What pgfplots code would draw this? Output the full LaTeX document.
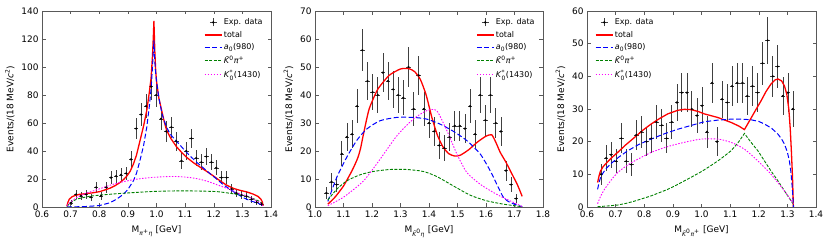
\documentclass[border=0pt]{standalone}
\usepackage{fontspec}
\setmainfont{DejaVu Sans}
\usepackage{pgfplots}
\usepackage{pgfplotstable}
\pgfplotsset{compat=1.18}

\definecolor{dgreen}{rgb}{0,0.5,0}
\definecolor{axgray}{rgb}{0.35,0.35,0.35}
\definecolor{cred}{rgb}{1,0,0}
\definecolor{cblue}{rgb}{0,0,1}
\definecolor{cmag}{rgb}{1,0,1}

\newcommand\tsub[1]{\ensuremath{_{\mbox{\fontsize{6}{6}\selectfont #1}}}}
\newcommand\tsup[1]{\ensuremath{^{\mbox{\fontsize{6}{6}\selectfont #1}}}}
\newcommand\tsupsub[2]{\ensuremath{^{\mbox{\fontsize{6}{6}\selectfont #1}}_{\mbox{\fontsize{6}{6}\selectfont #2}}}}
\newcommand\Kb{\textit{\={K}}}

\pgfplotstableread{
x y ey
0.701 3 1.7
0.719 9 3
0.736 8 2.8
0.754 9 3
0.771 7 2.6
0.789 14 3.7
0.806 8 2.8
0.824 14 3.7
0.841 21 4.6
0.859 22 4.7
0.876 23 4.8
0.894 24 4.9
0.911 34 5.8
0.929 56 7.5
0.946 66 8.1
0.964 72 8.5
0.981 86 9.3
0.999 80 8.9
1.016 63 7.9
1.034 54 7.3
1.052 57 7.5
1.069 47 6.9
1.087 33 5.7
1.104 40 6.3
1.122 49 7
1.139 35 5.9
1.157 32 5.7
1.174 36 6
1.192 32 5.7
1.209 28 5.3
1.227 21 4.6
1.245 21 4.6
1.262 13 3.6
1.279 10 3.2
1.297 8.6 2.9
1.315 7.6 2.8
1.332 5.5 2.3
1.350 3.3 1.8
1.367 2 1.4
}\dataA

\pgfplotstableread{
x y ey
1.040 5 2.2
1.058 9 3
1.076 8 2.8
1.094 19 4.4
1.112 25 5
1.130 26 5.1
1.148 36 6
1.166 56 7.5
1.184 45 6.7
1.202 41 6.4
1.220 40 6.3
1.238 48 6.9
1.256 45 6.7
1.274 42 6.5
1.292 40 6.3
1.310 39 6.2
1.328 50 7.1
1.346 35 5.9
1.364 47 6.9
1.382 35 5.9
1.400 30 5.5
1.418 27 5.2
1.436 22 4.7
1.454 21 4.6
1.472 25 5
1.490 29 5.4
1.508 29 5.4
1.526 28 5.3
1.544 36 6
1.562 26 5.1
1.580 40 6.3
1.598 31 5.6
1.616 40 6.3
1.634 30 5.5
1.652 27 5.2
1.670 13 3.6
1.688 8 2.8
1.706 3 1.7
}\dataB

\pgfplotstableread{
x y ey
0.649 10 3.2
0.667 15 3.9
0.684 16 4
0.702 14 3.7
0.720 21 4.6
0.737 14 3.7
0.755 13 3.6
0.772 22 4.7
0.790 23 4.8
0.808 20 4.5
0.825 21 4.6
0.843 26 5.1
0.861 25 5
0.878 21 4.6
0.896 26 5.1
0.914 32 5.7
0.931 35 5.9
0.949 35 5.9
0.966 30 5.5
0.984 28 5.3
1.002 31 5.6
1.019 23 4.8
1.037 38 6.2
1.054 20 4.5
1.072 33 5.7
1.090 32 5.7
1.107 37 6.1
1.125 38 6.2
1.143 38 6.2
1.160 34 5.8
1.178 37 6.1
1.196 35 5.9
1.213 44 6.6
1.231 51 7.1
1.249 40 6.3
1.266 43 6.6
1.284 34 5.8
1.302 35 5.9
1.319 30 5.5
}\dataC

\pgfplotsset{
  panel/.style={
    scale only axis, width=229bp, height=196bp,
    axis line style={axgray, line width=0.6pt},
    tick style={axgray, line width=0.5pt},
    tick align=inside,
    major tick length=3.5bp,
    tick label style={font=\fontsize{9}{10}\selectfont},
    label style={font=\fontsize{9}{10}\selectfont},
    xlabel style={yshift=-1.5bp},
    /pgf/number format/assume math mode=true,
    xticklabel style={/pgf/number format/.cd, fixed, fixed zerofill, precision=1},
    yticklabel style={/pgf/number format/.cd, fixed, precision=0},
    ylabel={Events/(18 MeV/\textit{c}\tsup{2})},
    ymin=0,
    legend cell align=left,
    legend style={draw=none, fill=none, font=\fontsize{8}{10}\selectfont,
      row sep=2bp, inner sep=1bp, nodes={inner sep=1.5bp}},
  },
  datast/.style={black, only marks, mark=*, mark size=0.9pt, forget plot,
    error bars/.cd, y dir=both, y explicit, x dir=both, x fixed=0.008,
    error bar style={black!75, line width=0.6pt}, error mark=none},
  totst/.style={cred, line width=1.3pt},
  a0st/.style={cblue, line width=1pt, dash pattern=on 5bp off 2.5bp},
  kpist/.style={dgreen, line width=0.9pt, dash pattern=on 3bp off 1.5bp},
  kstst/.style={cmag, line width=0.9pt, dash pattern=on 1.5bp off 1.5bp},
}

\newcommand\legendimages{%
  \addlegendimage{legend image code/.code={%
    \draw[black!75, line width=0.6pt] (0.3cm,-4bp) -- (0.3cm,4bp) (0.3cm-3.5bp,0cm) -- (0.3cm+3.5bp,0cm);
    \fill[black] (0.3cm,0cm) circle (1pt);}}
  \addlegendimage{legend image code/.code={%
    \draw[draw=cred, line width=1.3pt] (0cm,0cm) -- (0.6cm,0cm);}}
  \addlegendimage{legend image code/.code={%
    \draw[draw=cblue, line width=1pt, dash pattern=on 5bp off 2.5bp] (0cm,0cm) -- (0.6cm,0cm);}}
  \addlegendimage{legend image code/.code={%
    \draw[draw=dgreen, line width=0.9pt, dash pattern=on 3bp off 1.5bp] (0cm,0cm) -- (0.6cm,0cm);}}
  \addlegendimage{legend image code/.code={%
    \draw[draw=cmag, line width=0.9pt, dash pattern=on 1.5bp off 1.5bp] (0cm,0cm) -- (0.6cm,0cm);}}
  \legend{Exp. data, total, \textit{a}\tsub{0}(980), \Kb\tsup{0}\textit{π}\tsup{+}, \textit{K}\tsupsub{*}{0}(1430)}%
}

\begin{document}
\begin{tikzpicture}
\useasboundingbox (0,0) rectangle (830bp,244bp);

% ---------------- Panel 1 ----------------
\begin{axis}[panel, at={(42bp,37bp)}, anchor=south west,
  xmin=0.6, xmax=1.4, ymax=140,
  xtick={0.6,0.7,...,1.41}, ytick={0,20,...,140},
  xlabel={M\tsub{\textit{π}\tsup{+}\textit{η}} [GeV]},
  legend style={at={(0.975,0.975)}, anchor=north east}]
\legendimages
\addplot[datast] table[x=x, y=y, y error=ey] {\dataA};
\addplot[totst, forget plot] coordinates {
(0.687,0.5) (0.690,3) (0.695,5.5) (0.705,7.3) (0.715,8.2) (0.73,9) (0.756,9.6)
(0.78,10.2) (0.802,11) (0.82,12.2) (0.837,13.4) (0.855,15.2) (0.872,17.4)
(0.886,19.8) (0.896,22) (0.908,25.5) (0.919,30.5) (0.93,37) (0.942,47)
(0.955,58) (0.966,69) (0.975,82) (0.981,92) (0.986,108) (0.989,122) (0.991,133)
(0.994,112) (0.997,98) (1.0,90) (1.008,78) (1.018,69) (1.027,61) (1.035,55)
(1.05,49) (1.07,43) (1.09,38.5) (1.105,35.5) (1.13,31.5) (1.152,28.5)
(1.175,25.5) (1.198,22.3) (1.22,19) (1.245,15.6) (1.27,13.2) (1.29,12)
(1.315,10.8) (1.338,9.2) (1.355,7.5) (1.365,5.5) (1.370,3.5) (1.372,0.8)};
\addplot[a0st, forget plot] coordinates {
(0.687,0) (0.75,0.3) (0.8,1) (0.837,3) (0.86,5.5) (0.884,9) (0.9,12.5)
(0.919,18.6) (0.93,24) (0.942,33) (0.955,44) (0.966,57) (0.975,72) (0.981,84)
(0.986,100) (0.991,119) (0.994,104) (0.997,96) (1.0,90) (1.006,81) (1.012,74)
(1.02,66) (1.035,57) (1.05,51.5) (1.07,47) (1.094,41.5) (1.117,36.5) (1.14,32)
(1.163,28) (1.186,24) (1.21,20) (1.233,16) (1.257,12.6) (1.28,9.5) (1.303,6.7)
(1.327,4.5) (1.35,3) (1.365,1.8) (1.372,0.5)};
\addplot[kpist, forget plot, smooth, tension=0.4] coordinates {
(0.687,0.5) (0.7,3) (0.72,5.5) (0.75,7) (0.779,8) (0.82,8.8) (0.861,9.5)
(0.92,10.3) (0.977,11) (1.035,11.4) (1.094,11.5) (1.15,11.4) (1.21,11)
(1.25,10) (1.28,9) (1.31,7.8) (1.338,6) (1.355,4.5) (1.365,3) (1.372,1)};
\addplot[kstst, forget plot, smooth, tension=0.4] coordinates {
(0.687,1) (0.7,3.5) (0.721,6.7) (0.75,9.5) (0.779,11.5) (0.81,13.6) (0.837,15.5)
(0.866,17.2) (0.896,18.6) (0.925,19.7) (0.954,20.5) (0.99,21.2) (1.035,21.7)
(1.065,21.8) (1.094,21.5) (1.125,20.8) (1.152,19.8) (1.18,18.2) (1.21,16)
(1.24,13.8) (1.268,11.5) (1.29,9.7) (1.315,7.9) (1.335,6) (1.35,4.3)
(1.362,3) (1.372,1)};
\end{axis}

% ---------------- Panel 2 ----------------
\begin{axis}[panel, at={(315bp,37bp)}, anchor=south west, width=228bp,
  xmin=1.0, xmax=1.8, ymax=70,
  xtick={1.0,1.1,...,1.81}, ytick={0,10,...,70},
  xlabel={M\tsub{\Kb\tsup{0}\textit{η}} [GeV]},
  legend style={at={(0.975,0.975)}, anchor=north east}]
\legendimages
\addplot[datast] table[x=x, y=y, y error=ey] {\dataB};
\addplot[totst, forget plot, smooth, tension=0.35] coordinates {
(1.045,1) (1.07,3.5) (1.1,7.5) (1.13,13) (1.15,17.5) (1.16,21) (1.17,26)
(1.19,35) (1.22,42) (1.26,47) (1.3,49.3) (1.33,49.4) (1.35,48.3) (1.37,45.5)
(1.39,40) (1.41,32) (1.43,25.5) (1.45,21.3) (1.47,19) (1.49,18.2) (1.51,18.5)
(1.54,20.5) (1.57,23.2) (1.6,25.3) (1.62,25.8) (1.635,23) (1.65,19.5)
(1.67,16) (1.69,12) (1.71,8) (1.727,3.8)};
\addplot[a0st, forget plot, smooth, tension=0.4] coordinates {
(1.045,2) (1.076,10.5) (1.111,17.7) (1.146,23.7) (1.181,27.8) (1.228,30.8)
(1.287,32) (1.345,32) (1.392,31.4) (1.439,29.6) (1.486,27) (1.533,23.7)
(1.58,18.9) (1.615,12.9) (1.638,8.1) (1.662,3.3) (1.685,1.6) (1.708,0.7)
(1.727,0.1)};
\addplot[kpist, forget plot, smooth, tension=0.4] coordinates {
(1.045,2.5) (1.076,6.3) (1.111,9.3) (1.158,11.5) (1.205,12.7) (1.263,13.4)
(1.322,13.4) (1.38,12.7) (1.427,10.9) (1.486,7.5) (1.545,4.2) (1.603,2.2)
(1.662,1) (1.727,0.1)};
\addplot[kstst, forget plot, smooth, tension=0.4] coordinates {
(1.045,0.5) (1.1,3.5) (1.17,9.3) (1.228,17) (1.287,25.4) (1.345,31.4)
(1.392,34.4) (1.427,34.4) (1.463,27.2) (1.498,18.9) (1.533,12.3) (1.58,8.1)
(1.638,4.5) (1.697,1.6) (1.727,0.2)};
\end{axis}

% ---------------- Panel 3 ----------------
\begin{axis}[panel, at={(587bp,37bp)}, anchor=south west,
  xmin=0.6, xmax=1.4, ymax=60,
  xtick={0.6,0.7,...,1.41}, ytick={0,10,...,60},
  xlabel={M\tsub{\Kb\tsup{0}\textit{π}\tsup{+}} [GeV]},
  legend style={at={(0.03,0.975)}, anchor=north west}]
\legendimages
\addplot[datast] table[x=x, y=y, y error=ey] {\dataC};
\addplot[totst, forget plot] coordinates {
(0.637,7.5) (0.642,9.5) (0.647,11) (0.656,12.3) (0.666,13.3) (0.685,15)
(0.707,16.7) (0.735,19) (0.766,21.3) (0.795,23.5) (0.824,25.4) (0.852,27)
(0.882,28.5) (0.917,29.6) (0.94,29.9) (0.964,29.8) (0.99,29.2) (1.01,28.5)
(1.057,27.4) (1.103,25.9) (1.13,24.8) (1.15,23.7) (1.173,27.2) (1.19,29.8)
(1.208,32.5) (1.225,35.3) (1.243,37.7) (1.257,38.9) (1.267,39.2) (1.28,38.6)
(1.29,37) (1.298,34.5) (1.305,30) (1.31,24) (1.314,17) (1.318,9) (1.321,0)};
\addplot[a0st, forget plot] coordinates {
(0.637,5.4) (0.643,7.8) (0.649,9.5) (0.665,11.6) (0.684,13.3) (0.71,15.2)
(0.742,17.2) (0.78,19.1) (0.824,20.8) (0.87,22.4) (0.917,23.8) (0.965,25)
(1.01,26.1) (1.057,26.6) (1.103,26.9) (1.14,26.9) (1.173,26.7) (1.2,26.2)
(1.22,25.4) (1.245,24.1) (1.267,22.3) (1.28,20.8) (1.29,19.2) (1.3,16.8)
(1.307,14.1) (1.312,11) (1.316,7) (1.319,3.5) (1.321,0)};
\addplot[kpist, forget plot] coordinates {
(0.637,0.1) (0.67,0.3) (0.707,0.6) (0.736,1.1) (0.766,1.8) (0.795,2.6)
(0.824,3.4) (0.853,4.4) (0.882,5.4) (0.91,6.6) (0.94,8) (0.97,9.4) (0.999,10.8)
(1.028,12.4) (1.057,14.1) (1.08,15.6) (1.103,17.2) (1.127,19.6) (1.15,22.5)
(1.173,19.8) (1.197,17.2) (1.22,14.1) (1.243,11) (1.267,8) (1.29,4.9)
(1.305,2.9) (1.321,0.8)};
\addplot[kstst, forget plot, smooth, tension=0.4] coordinates {
(0.637,1) (0.647,3.2) (0.661,5.4) (0.684,8.2) (0.707,10.5) (0.736,12.5)
(0.766,14.1) (0.824,16.7) (0.882,18.5) (0.94,19.8) (0.999,20.8) (1.057,20.8)
(1.103,19.8) (1.15,17.7) (1.197,14.1) (1.243,10) (1.29,4.9) (1.321,1)};
\end{axis}
\end{tikzpicture}
\end{document}
